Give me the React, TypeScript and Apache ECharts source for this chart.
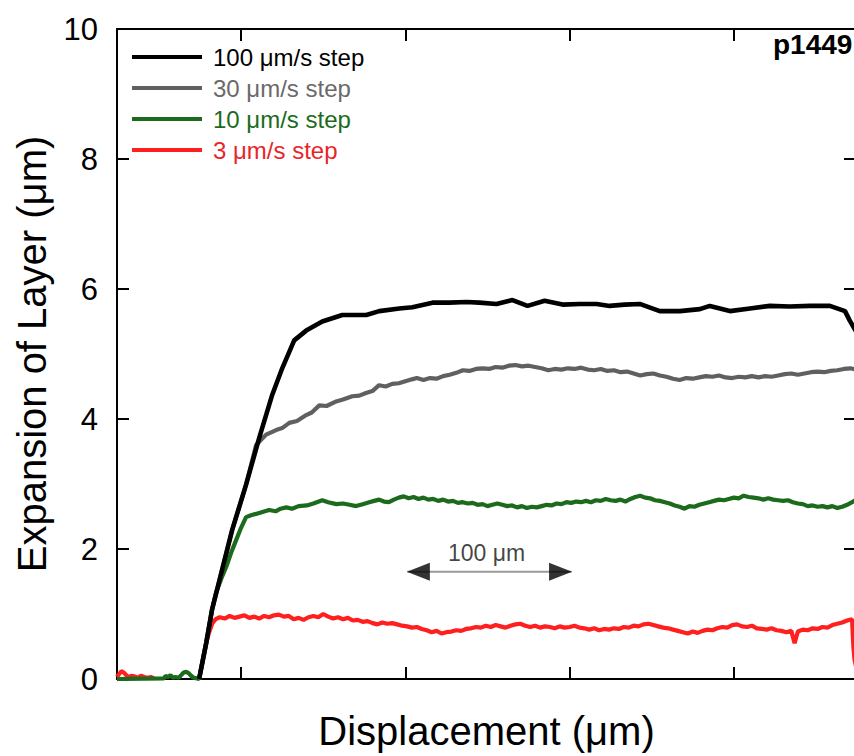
import React, { useEffect, useRef } from "react";
import * as echarts from "echarts";

const seriesNames = ["100 μm/s step", "30 μm/s step", "10 μm/s step", "3 μm/s step"];
const lineColors = ["#000000", "#606060", "#1c6b1c", "#ff1f1f"];
const textColors = ["#000000", "#6a6a6a", "#1c6b1c", "#e8262a"];
const yTicks = [0, 2, 4, 6, 8, 10];
const xTickValues = [0, 100, 200, 300];
const xRange = [-75.6, 374.4];

const blackData: (number | string)[][] = [
  [-25.6, 0], [-21.3, 0.55], [-17.7, 1.07], [-11.6, 1.68], [-5.5, 2.29], [3, 2.99], [11, 3.71],
  [18.9, 4.37], [25, 4.78], [32.3, 5.21], [39.6, 5.36], [49.4, 5.5], [61.6, 5.6], [76.2, 5.6],
  [84.1, 5.66], [96.3, 5.7], [104.3, 5.72], [116.5, 5.79], [126.8, 5.79], [137.2, 5.8],
  [145.1, 5.79], [155.5, 5.77], [165.2, 5.83], [174.4, 5.74], [184.8, 5.82], [195.7, 5.76],
  [206.1, 5.77], [216.5, 5.77], [224.4, 5.74], [233.5, 5.76], [242.7, 5.77], [254.9, 5.66],
  [267.1, 5.66], [279.3, 5.69], [285.4, 5.74], [297.6, 5.66], [309.8, 5.7], [322, 5.74],
  [334.1, 5.73], [346.3, 5.74], [358.5, 5.74], [367.7, 5.66], [370.7, 5.51], [374.4, 5.35],
];

const grayData: (number | string)[][] = [
  [-25.6, 0], [-21.3, 0.55], [-17.7, 1.07], [-11.6, 1.68], [-5.5, 2.29], [3, 2.99], [9.1, 3.6],
  [15.2, 3.76], [21.3, 3.83], [25, 3.86], [29.3, 3.94], [34, 3.97], [39.6, 4.06], [43, 4.1],
  [47.6, 4.21], [52, 4.2], [57.9, 4.27], [62, 4.3], [67.7, 4.35], [72, 4.36], [76, 4.4],
  [79.9, 4.43], [84, 4.52], [88, 4.5], [92, 4.54], [96, 4.55], [100, 4.58], [104, 4.61],
  [107, 4.63], [111, 4.6], [115, 4.63], [119, 4.62], [123, 4.66], [127, 4.68], [131, 4.71],
  [135, 4.75], [139, 4.74], [143, 4.77], [147, 4.78], [151, 4.77], [155, 4.8], [159, 4.79],
  [163, 4.82], [167, 4.83], [171, 4.81], [175, 4.82], [179, 4.8], [183, 4.78], [187, 4.75],
  [191, 4.77], [195, 4.76], [199, 4.78], [203, 4.77], [207, 4.79], [211, 4.76], [215, 4.75],
  [219, 4.77], [223, 4.74], [227, 4.75], [231, 4.72], [235, 4.73], [239, 4.7], [243, 4.67],
  [247, 4.69], [251, 4.7], [255, 4.67], [259, 4.65], [263, 4.62], [267, 4.6], [271, 4.63],
  [275, 4.62], [279, 4.64], [283, 4.66], [287, 4.65], [291, 4.67], [295, 4.64], [299, 4.63],
  [303, 4.65], [307, 4.64], [311, 4.66], [315, 4.64], [319, 4.66], [323, 4.65], [327, 4.67],
  [331, 4.69], [335, 4.7], [339, 4.68], [343, 4.7], [347, 4.72], [351, 4.73], [355, 4.72],
  [359, 4.74], [363, 4.75], [367, 4.77], [371, 4.78], [374.4, 4.76],
];

const greenData: (number | string)[][] = [
  [-75.6, 0], [-47, 0.01], [-46, 0.05], [-44.5, 0.03], [-43, 0.06], [-41.5, 0.02], [-40, 0.03],
  [-38, 0.02], [-36.5, 0.06], [-35, 0.1], [-33.5, 0.11], [-32, 0.09], [-30.5, 0.05], [-29, 0.02],
  [-27, 0.01], [-25.6, 0], [-21.3, 0.55], [-17.7, 1.07], [-15.5, 1.31], [-12, 1.55], [-9, 1.73],
  [-6, 1.95], [-3, 2.14], [0, 2.33], [3, 2.49], [6, 2.52], [9, 2.54], [13, 2.57], [17, 2.6],
  [21, 2.58], [24, 2.62], [27.5, 2.64], [31, 2.62], [35, 2.66], [40, 2.67], [44, 2.7],
  [49.4, 2.75], [53, 2.72], [58, 2.69], [62, 2.7], [66, 2.68], [70, 2.66], [74, 2.69],
  [78, 2.72], [81, 2.74], [84, 2.76], [87, 2.73], [90, 2.72], [93, 2.76], [96, 2.79],
  [99, 2.81], [102, 2.78], [105, 2.8], [108, 2.77], [111, 2.79], [114, 2.76], [117, 2.77],
  [120, 2.74], [123, 2.76], [126, 2.73], [129, 2.74], [132, 2.71], [135, 2.72], [138, 2.7],
  [141, 2.71], [144, 2.68], [147, 2.69], [150, 2.66], [153, 2.68], [156, 2.7], [159, 2.68],
  [162, 2.66], [165, 2.67], [168, 2.64], [171, 2.66], [174, 2.63], [177, 2.65], [180, 2.64],
  [183, 2.66], [186, 2.68], [189, 2.67], [192, 2.7], [195, 2.69], [198, 2.72], [201, 2.71],
  [204, 2.73], [207, 2.72], [210, 2.74], [213, 2.72], [216, 2.75], [219, 2.74], [222, 2.77],
  [225, 2.75], [228, 2.74], [231, 2.76], [234, 2.73], [237, 2.77], [240, 2.8], [243, 2.82],
  [246, 2.79], [249, 2.78], [252, 2.75], [255, 2.74], [258, 2.72], [261, 2.7], [264, 2.67],
  [267, 2.65], [270, 2.62], [273, 2.66], [276, 2.65], [279, 2.68], [282, 2.7], [285, 2.72],
  [288, 2.74], [291, 2.76], [294, 2.75], [297, 2.77], [300, 2.79], [303, 2.78], [306, 2.82],
  [309, 2.8], [312, 2.79], [315, 2.78], [318, 2.76], [321, 2.78], [324, 2.76], [327, 2.75],
  [330, 2.74], [333, 2.75], [336, 2.72], [339, 2.7], [342, 2.69], [345, 2.66], [348, 2.67],
  [351, 2.65], [354, 2.66], [357, 2.64], [360, 2.66], [363, 2.63], [366, 2.65], [369, 2.68],
  [372, 2.72], [374.4, 2.76],
];

const redData: (number | string)[][] = [
  [-75.6, 0.03], [-74.5, 0.07], [-73, 0.12], [-71.5, 0.1], [-70, 0.06], [-68.5, 0.03],
  [-67, 0.05], [-65, 0.04], [-63, 0.02], [-61, 0.05], [-59, 0.03], [-57, 0.02], [-55, 0.03],
  [-53, 0.01], [-40, "-"],
  [-25.6, 0], [-23.5, 0.28], [-21.3, 0.55], [-19.5, 0.72], [-17.5, 0.86], [-15.5, 0.92],
  [-13, 0.95], [-10, 0.93], [-7, 0.97], [-4, 0.94], [-1, 0.96], [2, 0.98], [5, 0.94], [8, 0.96],
  [11, 0.93], [14, 0.97], [17, 0.95], [20, 0.98], [23, 0.99], [26, 0.96], [29, 0.97], [32, 0.92],
  [35, 0.94], [38, 0.91], [41, 0.95], [44, 0.97], [47, 0.95], [50, 1.0], [53, 0.96], [56, 0.93],
  [59, 0.95], [62, 0.92], [65, 0.94], [68, 0.9], [71, 0.91], [74, 0.88], [77, 0.89], [80, 0.86],
  [83, 0.84], [86, 0.87], [89, 0.85], [92, 0.86], [95, 0.84], [98, 0.82], [101, 0.81],
  [104, 0.79], [107, 0.8], [110, 0.77], [113, 0.75], [116, 0.72], [119, 0.74], [122, 0.7],
  [125, 0.72], [128, 0.73], [131, 0.75], [134, 0.74], [137, 0.77], [140, 0.78], [143, 0.8],
  [146, 0.79], [149, 0.82], [152, 0.8], [155, 0.83], [158, 0.81], [161, 0.79], [164, 0.82],
  [167, 0.84], [170, 0.85], [173, 0.82], [176, 0.8], [179, 0.82], [182, 0.79], [185, 0.81],
  [188, 0.8], [191, 0.78], [194, 0.81], [197, 0.79], [200, 0.8], [203, 0.82], [206, 0.79],
  [209, 0.78], [212, 0.76], [215, 0.78], [218, 0.75], [221, 0.77], [224, 0.76], [227, 0.78],
  [230, 0.77], [233, 0.8], [236, 0.79], [239, 0.82], [242, 0.81], [245, 0.84], [248, 0.85],
  [251, 0.83], [254, 0.81], [257, 0.79], [260, 0.78], [263, 0.76], [266, 0.74], [269, 0.72],
  [272, 0.7], [275, 0.73], [278, 0.71], [281, 0.74], [284, 0.76], [287, 0.75], [290, 0.78],
  [293, 0.8], [296, 0.79], [299, 0.83], [302, 0.84], [305, 0.81], [308, 0.8], [311, 0.82],
  [314, 0.78], [317, 0.77], [320, 0.76], [323, 0.78], [326, 0.75], [329, 0.74], [332, 0.72],
  [335, 0.74], [337, 0.55], [339, 0.73], [342, 0.76], [345, 0.75], [348, 0.78], [351, 0.77],
  [354, 0.8], [357, 0.79], [360, 0.83], [363, 0.85], [366, 0.87], [369, 0.9], [372, 0.92],
  [372.8, 0.5], [373.5, 0.3], [374.4, 0.2],
];

// scale bar annotation (data coordinates)
const scaleBarLine = [[101.2, 1.65], [201.2, 1.65]];
const scaleBarHeads = [[107.9, 1.65, 90], [194.5, 1.65, -90]];
const scaleBarLabel = [[149.4, 1.94]];
const scaleBarText = "100 μm";
const panelId = "p1449";

export default function App() {
  const ref = useRef<HTMLDivElement>(null);
  useEffect(() => {
    if (!ref.current) return;
    const chart = echarts.init(ref.current, null, { renderer: "svg" });
    const font = "'Liberation Sans', Arial, sans-serif";
    const dataSets = [blackData, grayData, greenData, redData];
    const lineSeries = [3, 2, 1, 0].map((i) => ({
      name: seriesNames[i],
      type: "line",
      data: dataSets[i],
      showSymbol: false,
      symbol: "none",
      connectNulls: false,
      lineStyle: { color: lineColors[i], width: i === 0 ? 4.6 : 4.2 },
      itemStyle: { color: lineColors[i] },
      z: 3 + (3 - i),
    }));
    const axisLineStyle = { color: "#000", width: 2 };
    chart.setOption({
      animation: false,
      textStyle: { fontFamily: font },
      title: {
        text: panelId,
        left: 773,
        top: 30,
        padding: 0,
        textStyle: { fontSize: 28, fontWeight: "bold", color: "#000", fontFamily: font },
      },
      legend: {
        orient: "vertical",
        left: 132,
        top: 45,
        padding: 0,
        itemWidth: 70,
        itemHeight: 4,
        itemGap: 7,
        icon: "rect",
        textStyle: { fontSize: 24, fontFamily: font, padding: [0, 0, 0, 6] },
        data: seriesNames.map((n, i) => ({ name: n, textStyle: { color: textColors[i] } })),
      },
      grid: { left: 117, right: 4, top: 29, bottom: 73 },
      xAxis: [
        {
          type: "value",
          min: xRange[0],
          max: xRange[1],
          name: "Displacement (μm)",
          nameLocation: "middle",
          nameGap: 32,
          nameTextStyle: { fontSize: 40, color: "#000", fontFamily: font },
          axisLine: { show: true, onZero: false, lineStyle: axisLineStyle },
          axisTick: { show: true, inside: true, length: 12, customValues: xTickValues, lineStyle: axisLineStyle },
          axisLabel: { show: false },
          splitLine: { show: false },
        },
        {
          type: "value",
          position: "top",
          min: xRange[0],
          max: xRange[1],
          axisLine: { show: true, onZero: false, lineStyle: axisLineStyle },
          axisTick: { show: true, inside: true, length: 12, customValues: xTickValues, lineStyle: axisLineStyle },
          axisLabel: { show: false },
          splitLine: { show: false },
        },
      ],
      yAxis: [
        {
          type: "value",
          position: "left",
          min: yTicks[0],
          max: yTicks[yTicks.length - 1],
          interval: 2,
          name: "Expansion of Layer (μm)",
          nameLocation: "middle",
          nameGap: 65,
          nameTextStyle: { fontSize: 40, color: "#000", fontFamily: font },
          axisLine: { show: true, onZero: false, lineStyle: axisLineStyle },
          axisTick: { show: true, inside: true, length: 12, lineStyle: axisLineStyle },
          axisLabel: { fontSize: 31, color: "#000", margin: 19, fontFamily: font },
          splitLine: { show: false },
        },
        {
          type: "value",
          position: "right",
          min: yTicks[0],
          max: yTicks[yTicks.length - 1],
          interval: 2,
          axisLine: { show: true, onZero: false, lineStyle: axisLineStyle },
          axisTick: { show: true, inside: true, length: 12, lineStyle: axisLineStyle },
          axisLabel: { show: false },
          splitLine: { show: false },
        },
      ],
      series: [
        ...lineSeries,
        {
          type: "line",
          data: scaleBarLine,
          showSymbol: false,
          symbol: "none",
          lineStyle: { color: "#9a9a9a", width: 2 },
          silent: true,
          z: 10,
        },
        {
          type: "scatter",
          data: scaleBarHeads.map((d) => ({ value: [d[0], d[1]], symbolRotate: d[2] })),
          symbol: "triangle",
          symbolSize: [18, 23],
          itemStyle: { color: "#000" },
          silent: true,
          z: 11,
        },
        {
          type: "scatter",
          data: scaleBarLabel,
          symbolSize: 0,
          label: {
            show: true,
            position: "inside",
            formatter: () => scaleBarText,
            fontSize: 23,
            color: "#111",
            fontFamily: font,
          },
          silent: true,
          z: 11,
        },
      ],
    });
    return () => chart.dispose();
  }, []);
  return (
    <div style={{ position: "fixed", left: 0, top: 0, width: 854, height: 756, overflow: "hidden", background: "#fff" }}>
      <div ref={ref} style={{ width: 860, height: 756 }} />
    </div>
  );
}
